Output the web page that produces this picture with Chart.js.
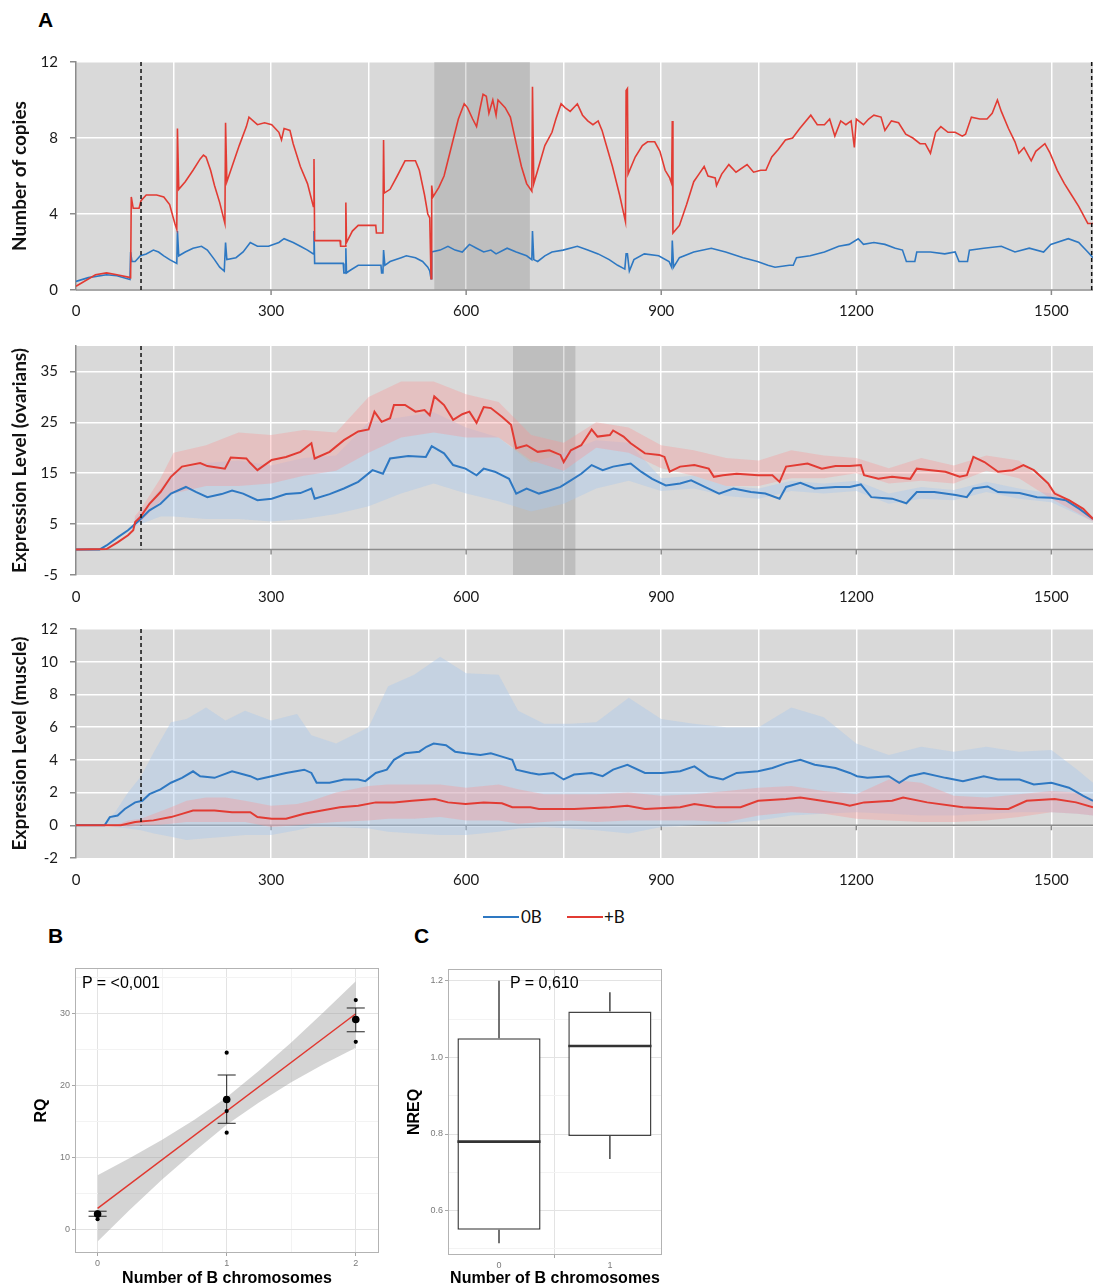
<!DOCTYPE html>
<html>
<head>
<meta charset="utf-8">
<script src="https://cdn.jsdelivr.net/npm/chart.js@4.4.1/dist/chart.umd.min.js"></script>
<style>
  body { margin: 0; background: #fff; width: 1093px; height: 1288px; position: relative; overflow: hidden; }
  canvas { position: absolute; }
  .tag { position: absolute; font-family: "Liberation Sans", Arial, sans-serif; font-weight: bold; font-size: 21px; line-height: 1; color: #000; }
  .ptxt { position: absolute; font-family: "Liberation Sans", Arial, sans-serif; font-size: 16px; line-height: 1; color: #000; }
  .leg-line { position: absolute; height: 2px; }
  .leg-txt { position: absolute; font-family: Lato, sans-serif; font-size: 17px; line-height: 1; color: #111; }
</style>
</head>
<body>
<div class="tag" style="left:38px;top:9px">A</div>
<div class="tag" style="left:48px;top:925px">B</div>
<div class="tag" style="left:414px;top:925px">C</div>

<canvas id="copies" width="1093" height="280" style="left:0;top:50px"></canvas>
<canvas id="ovary" width="1093" height="280" style="left:0;top:335px"></canvas>
<canvas id="muscle" width="1093" height="281" style="left:0;top:617px"></canvas>

<div class="leg-line" style="left:483px;top:916px;width:36px;background:#2e78c2"></div>
<div class="leg-txt" style="left:521px;top:908px">0B</div>
<div class="leg-line" style="left:567px;top:916px;width:36px;background:#e23b33"></div>
<div class="leg-txt" style="left:604px;top:908px">+B</div>

<canvas id="rq" width="395" height="333" style="left:0;top:955px"></canvas>
<canvas id="nreq" width="280" height="333" style="left:400px;top:955px"></canvas>
<div class="ptxt" style="left:82px;top:975px">P = &lt;0,001</div>
<div class="ptxt" style="left:510px;top:975px">P = 0,610</div>

<script>
// ===== Panel A: shared axis =====
const xGridTicks = [0, 150, 300, 450, 600, 750, 900, 1050, 1200, 1350, 1500];
const xLabelTicks = [300, 600, 900, 1200, 1500];

// --- Number of copies ---
const copiesZeroB = [[0,0.45],[19,0.65],[47,0.8],[63,0.75],[83,0.55],[84,2.0],[86,1.5],[91,1.5],[99,1.8],[108,1.9],[119,2.1],[127,2.0],[135,1.8],[144,1.6],[155,1.4],[156,3.1],[158,1.8],[168,2.0],[180,2.2],[193,2.3],[202,2.1],[213,1.6],[221,1.2],[228,1.0],[230,2.5],[232,1.6],[246,1.7],[257,2.0],[268,2.5],[279,2.3],[296,2.3],[312,2.5],[320,2.7],[334,2.5],[345,2.3],[356,2.1],[365,1.9],[366,3.1],[367,1.4],[411,1.4],[412,0.9],[414,0.9],[415,2.2],[416,0.9],[420,1.0],[434,1.3],[469,1.3],[470,0.9],[472,0.9],[473,2.1],[475,1.3],[483,1.5],[500,1.7],[508,1.8],[522,1.7],[533,1.5],[541,1.2],[544,1.0],[546,0.6],[547,2.0],[560,2.1],[572,2.3],[583,2.1],[594,2.0],[605,2.4],[616,2.2],[627,2.0],[638,2.1],[646,1.9],[663,2.2],[677,2.0],[693,1.8],[701,1.6],[702,3.1],[704,1.6],[710,1.5],[721,1.8],[732,2.0],[749,2.1],[771,2.3],[787,2.1],[803,1.9],[820,1.6],[833,1.3],[844,1.1],[846,1.9],[848,1.9],[851,1.0],[858,1.6],[874,1.9],[896,1.8],[912,1.5],[916,1.2],[917,2.6],[919,1.2],[928,1.7],[950,2.0],[977,2.2],[999,2.0],[1026,1.7],[1048,1.5],[1064,1.3],[1075,1.2],[1097,1.3],[1103,1.3],[1108,1.7],[1129,1.8],[1151,2.0],[1173,2.3],[1189,2.4],[1203,2.7],[1211,2.4],[1227,2.5],[1244,2.4],[1260,2.2],[1271,2.1],[1277,1.5],[1290,1.5],[1293,2.0],[1314,2.0],[1336,1.9],[1352,2.0],[1358,1.5],[1371,1.5],[1374,2.1],[1396,2.2],[1423,2.3],[1444,2.0],[1466,2.2],[1488,2.0],[1499,2.4],[1526,2.7],[1542,2.5],[1556,2.0],[1564,1.7]];
const copiesPlusB = [[0,0.2],[30,0.8],[47,0.9],[63,0.8],[84,0.65],[85,4.9],[88,4.3],[97,4.3],[100,4.7],[108,5.0],[124,5.0],[135,4.9],[144,4.5],[152,3.5],[155,3.2],[156,8.5],[158,5.3],[168,5.7],[180,6.3],[191,6.9],[196,7.1],[200,7.0],[207,6.3],[213,5.5],[221,4.6],[229,3.5],[230,8.8],[232,5.7],[240,6.5],[251,7.6],[262,8.6],[266,9.1],[279,8.7],[290,8.8],[301,8.7],[312,8.3],[316,7.9],[320,8.5],[329,8.4],[334,7.7],[345,6.5],[356,5.6],[365,4.4],[366,6.9],[367,2.6],[406,2.6],[407,2.3],[414,2.3],[415,4.6],[416,2.5],[425,3.1],[434,3.4],[461,3.4],[462,3.0],[472,3.0],[473,7.9],[474,5.1],[483,5.3],[494,6.0],[503,6.6],[506,6.8],[522,6.8],[528,6.3],[536,5.0],[541,4.0],[544,3.8],[546,0.6],[547,5.5],[549,4.9],[558,5.4],[566,6.0],[577,7.5],[588,9.0],[597,9.8],[602,9.6],[610,9.0],[616,8.6],[621,9.5],[626,10.3],[631,10.2],[635,9.3],[641,10.0],[646,9.2],[649,10.0],[660,9.6],[668,9.1],[677,7.7],[685,6.5],[693,5.6],[701,5.2],[702,10.7],[704,5.6],[710,6.3],[721,7.6],[732,8.3],[738,9.0],[746,9.8],[752,9.6],[760,9.4],[771,9.8],[779,9.2],[787,8.9],[795,8.7],[803,8.9],[809,8.4],[814,7.8],[825,6.5],[836,5.0],[845,3.6],[846,10.5],[848,10.6],[849,6.1],[860,7.0],[871,7.6],[879,7.8],[890,7.8],[898,7.3],[906,6.3],[913,5.9],[916,5.6],[917,8.9],[918,3.0],[928,3.4],[939,4.5],[950,5.7],[958,6.1],[966,6.5],[972,6.0],[983,5.9],[985,5.5],[993,6.1],[1004,6.6],[1015,6.2],[1032,6.6],[1042,6.2],[1053,6.3],[1061,6.3],[1070,7.0],[1080,7.4],[1091,7.9],[1102,8.0],[1113,8.5],[1130,9.2],[1140,8.7],[1151,8.7],[1159,9.0],[1167,8.1],[1176,8.9],[1184,8.7],[1192,8.9],[1197,7.5],[1200,9.0],[1211,8.7],[1219,9.0],[1227,9.2],[1238,9.1],[1244,8.4],[1254,8.9],[1265,8.8],[1276,8.2],[1287,8.0],[1298,7.7],[1306,7.7],[1314,7.2],[1322,8.3],[1330,8.6],[1341,8.3],[1352,8.3],[1363,8.1],[1368,8.2],[1377,9.1],[1390,9.0],[1401,9.0],[1409,9.3],[1417,10.0],[1423,9.4],[1434,8.5],[1444,7.8],[1450,7.2],[1458,7.5],[1469,6.8],[1476,7.3],[1490,7.7],[1498,7.2],[1509,6.3],[1520,5.6],[1531,5.0],[1542,4.4],[1556,3.5],[1564,3.5]];
const copiesShade = [551, 698];
const copiesDashes = [100, 1562];
const copiesYTicks = [0, 4, 8, 12];

// --- Expression level, ovarians ---
const ovarZeroB = [[0,0],[36,0],[47,0.8],[64,2.4],[80,3.8],[97,5.7],[113,7.7],[130,9.0],[146,11.0],[169,12.3],[185,11.3],[202,10.3],[224,10.9],[240,11.6],[257,11.0],[279,9.7],[301,10.0],[323,10.9],[345,11.1],[362,12.0],[367,10.0],[390,10.9],[412,12.0],[434,13.3],[456,15.6],[472,14.9],[483,17.9],[511,18.4],[538,18.2],[547,20.3],[566,18.9],[580,16.6],[599,15.9],[616,14.6],[627,15.9],[644,15.3],[666,13.9],[677,11.0],[693,12.0],[712,11.0],[728,11.6],[745,12.3],[761,13.6],[777,14.9],[793,16.6],[810,15.6],[826,16.3],[853,16.9],[869,15.3],[886,13.9],[907,12.6],[929,13.0],[946,13.6],[967,12.3],[989,11.0],[1011,12.0],[1038,11.3],[1060,11.0],[1082,10.0],[1092,12.3],[1114,13.1],[1136,12.0],[1168,12.3],[1190,12.3],[1207,12.8],[1223,10.3],[1255,10.0],[1277,9.1],[1293,11.3],[1320,11.3],[1353,10.7],[1370,10.3],[1380,12.0],[1402,12.4],[1418,11.3],[1451,11.1],[1478,10.3],[1500,10.2],[1522,9.7],[1543,8.0],[1564,6.0]];
const ovarPlusB = [[0,0],[47,0.1],[64,1.4],[80,2.8],[88,3.8],[91,5.4],[99,6.4],[113,9.0],[130,11.3],[146,14.3],[163,16.3],[191,17.0],[202,16.4],[229,15.9],[238,18.1],[262,17.9],[268,17.0],[279,15.6],[301,17.6],[323,18.2],[345,19.2],[362,20.9],[367,17.9],[390,19.2],[412,21.5],[434,23.2],[450,23.6],[459,27.1],[470,25.1],[483,25.8],[489,28.4],[506,28.4],[522,27.1],[536,27.4],[544,26.4],[551,30.1],[566,28.4],[580,25.5],[594,26.6],[605,27.1],[616,24.9],[627,28.0],[638,27.8],[655,26.1],[669,24.5],[677,19.9],[693,20.5],[710,19.2],[728,19.5],[745,18.6],[750,17.2],[761,19.5],[777,20.5],[793,23.6],[802,22.2],[821,22.5],[826,23.4],[842,22.2],[853,20.9],[875,18.9],[897,18.6],[905,18.2],[913,15.3],[929,16.3],[951,16.6],[973,15.9],[981,14.3],[995,14.6],[1016,14.9],[1049,14.6],[1071,14.6],[1082,13.3],[1092,16.3],[1125,16.9],[1147,15.9],[1168,16.4],[1190,16.4],[1207,16.6],[1212,14.6],[1234,13.9],[1255,14.3],[1283,13.9],[1293,15.9],[1315,15.6],[1337,15.3],[1359,14.3],[1370,14.6],[1380,18.2],[1397,17.2],[1418,15.3],[1440,15.6],[1457,16.6],[1473,15.6],[1495,13.0],[1505,11.0],[1527,9.7],[1549,8.0],[1564,6.0]];
const ovarBandX      = [90, 100, 130, 150, 200, 250, 300, 350, 400, 450, 500, 550, 600, 650, 700, 750, 800, 850, 900, 950, 1000, 1050, 1100, 1150, 1200, 1250, 1300, 1350, 1400, 1450, 1500, 1564];
const ovarZeroBHigh  = [6, 7.5, 12, 15.5, 17, 17.5, 16.5, 18, 18.5, 25, 26, 27, 24, 22, 17, 19, 21.5, 21, 14, 14.5, 12.5, 12, 13.5, 13, 13.5, 11, 12.3, 11.7, 13.3, 12, 11, 6.5];
const ovarZeroBLow   = [4.5, 5, 6.5, 6.5, 6, 6, 5.5, 6, 7, 8.5, 11, 13, 11, 9.5, 7.5, 9, 12, 13.5, 11.5, 12, 10.5, 10, 11.5, 11, 11.5, 9, 10, 9.7, 11.3, 10, 9.3, 5.5];
const ovarPlusBHigh  = [6.5, 8, 14, 19, 20.5, 23, 22.5, 23.5, 23, 30, 33, 33, 30.5, 29, 22.5, 21, 25, 24, 20.5, 19.5, 18, 17.5, 19.5, 18.5, 18, 16, 18, 16.5, 18.5, 17.5, 12, 6.5];
const ovarPlusBLow   = [5, 5.5, 9.5, 11, 12.5, 12.5, 13, 14.5, 15.5, 19, 22, 23, 22, 22, 17.5, 15.5, 20, 19, 16, 14.5, 12.5, 12.5, 14, 14, 15, 13, 13.5, 13, 15.5, 14, 10, 5.5];
const ovarShade = [672, 768];
const ovarDashes = [100];
const ovarYTicks = [-5, 5, 15, 25, 35];

// --- Expression level, muscle ---
const muscZeroB = [[0,0],[44,0],[52,0.5],[64,0.6],[75,1.0],[91,1.4],[102,1.5],[113,1.9],[130,2.2],[146,2.6],[163,2.9],[180,3.3],[191,3.0],[213,2.9],[240,3.3],[268,3.0],[279,2.8],[301,3.0],[323,3.2],[351,3.4],[362,3.2],[370,2.6],[390,2.6],[412,2.8],[434,2.8],[445,2.7],[461,3.2],[478,3.4],[489,4.0],[506,4.4],[528,4.5],[539,4.8],[550,5.0],[569,4.9],[583,4.5],[599,4.4],[622,4.3],[638,4.4],[655,4.2],[671,4.0],[677,3.4],[699,3.2],[712,3.1],[734,3.2],[750,2.8],[766,3.1],[793,3.2],[810,3.0],[826,3.4],[848,3.7],[875,3.2],[902,3.2],[929,3.3],[951,3.6],[973,3.0],[995,2.8],[1016,3.2],[1049,3.3],[1071,3.5],[1092,3.8],[1114,4.0],[1136,3.7],[1168,3.5],[1190,3.2],[1201,3.0],[1217,2.9],[1250,3.0],[1266,2.6],[1282,3.0],[1304,3.2],[1337,2.9],[1364,2.7],[1396,3.0],[1418,2.8],[1451,2.8],[1473,2.5],[1500,2.6],[1527,2.3],[1549,1.8],[1564,1.5]];
const muscPlusB = [[0,0],[69,0],[91,0.2],[119,0.3],[146,0.5],[163,0.7],[180,0.9],[213,0.9],[240,0.8],[268,0.8],[279,0.5],[301,0.4],[323,0.4],[351,0.7],[378,0.9],[406,1.1],[434,1.2],[461,1.4],[489,1.4],[517,1.5],[552,1.6],[572,1.4],[599,1.3],[627,1.4],[655,1.35],[671,1.1],[699,1.1],[712,1.0],[766,1.0],[821,1.1],[848,1.2],[875,1.0],[929,1.1],[951,1.3],[984,1.1],[1022,1.1],[1049,1.5],[1092,1.6],[1114,1.7],[1147,1.5],[1179,1.3],[1190,1.2],[1212,1.4],[1255,1.5],[1272,1.7],[1309,1.4],[1364,1.1],[1418,1.0],[1434,1.0],[1462,1.5],[1505,1.6],[1538,1.4],[1564,1.1]];
const muscBandX      = [44, 60, 80, 100, 120, 146, 170, 200, 230, 260, 300, 340, 362, 400, 450, 480, 520, 560, 600, 650, 680, 720, 760, 800, 850, 900, 950, 1000, 1050, 1100, 1150, 1200, 1250, 1300, 1350, 1400, 1450, 1500, 1540, 1564];
const muscZeroBHigh  = [0.1, 0.8, 2.0, 3.0, 4.5, 6.3, 6.5, 7.2, 6.4, 7.0, 6.4, 6.8, 5.5, 5.0, 6.0, 8.5, 9.2, 10.3, 9.3, 9.2, 7.0, 6.2, 6.2, 6.3, 7.8, 6.5, 6.2, 6.0, 6.0, 7.2, 6.6, 5.0, 4.3, 4.8, 4.5, 4.8, 4.5, 4.6, 3.4, 2.6];
const muscZeroBLow   = [0, -0.1, -0.2, -0.3, -0.5, -0.7, -0.9, -0.8, -0.7, -0.6, -0.6, -0.3, -0.1, -0.1, -0.2, -0.4, -0.5, -0.6, -0.6, -0.4, -0.2, -0.1, -0.2, -0.3, -0.5, -0.1, 0, 0.1, 0.3, 0.6, 0.7, 0.8, 0.7, 0.6, 0.6, 0.7, 0.8, 0.8, 0.7, 0.6];
const muscPlusBHigh  = [0, 0, 0.3, 0.4, 0.7, 1.1, 1.5, 1.7, 1.7, 1.5, 1.2, 1.3, 1.5, 2.0, 2.4, 2.5, 2.5, 2.5, 2.3, 2.5, 2.2, 1.9, 1.9, 1.9, 2.0, 1.8, 1.9, 2.1, 2.3, 2.4, 2.1, 1.9, 2.8, 2.6, 1.8, 1.7, 1.9, 2.1, 2.0, 1.6];
const muscPlusBLow   = [0, 0, -0.1, 0, 0, 0.1, 0.2, 0.2, 0.2, 0.2, -0.1, 0, 0.1, 0.2, 0.3, 0.4, 0.4, 0.5, 0.3, 0.3, 0.1, 0.2, 0.3, 0.2, 0.3, 0.3, 0.3, 0.2, 0.6, 0.8, 0.7, 0.4, 0.3, 0.2, 0.2, 0.3, 0.5, 0.8, 0.7, 0.6];
const muscDashes = [100];
const muscYTicks = [-2, 0, 2, 4, 6, 8, 10, 12];

// ===== Panel B: RQ vs number of B chromosomes =====
const rqGroups  = [0, 1, 2];
const rqSamples = [[0,2.3],[0,2.0],[0,1.4],[1,24.5],[1,16.4],[1,13.4],[2,31.8],[2,29.3],[2,26.0]];
const rqMean    = [2.1, 18.0, 29.1];
const rqErrHigh = [2.5, 21.4, 30.7];
const rqErrLow  = [1.8, 14.7, 27.4];
const rqFitX    = [0, 2];
const rqFitY    = [2.9, 29.9];
const rqBandX   = [0, 0.25, 0.5, 0.75, 1, 1.25, 1.5, 1.75, 2];
const rqBandHigh = [7.5, 9.9, 12.4, 15.2, 18.3, 22.0, 25.9, 30.1, 34.4];
const rqBandLow  = [-1.7, 2.7, 6.9, 10.8, 14.5, 17.6, 20.4, 22.9, 25.2];

// ===== Panel C: NREQ boxplot =====
const nreqGroups = [0, 1];
const nreqMin = [0.515, 0.735];
const nreqQ1  = [0.55, 0.795];
const nreqMed = [0.78, 1.03];
const nreqQ3  = [1.05, 1.12];
const nreqMax = [1.2, 1.17];

const RED = '#e23b33';
const BLUE = '#2e78c2';

const pts = arr => arr.map(([x, y]) => ({ x, y }));

function lineSet(data, color, width) {
  return { data: pts(data), borderColor: color, borderWidth: width, pointRadius: 0, fill: false, tension: 0 };
}

function bandSets(xs, hi, lo, color) {
  return [
    { data: xs.map((x, i) => ({ x, y: hi[i] })), borderColor: 'transparent', borderWidth: 0, pointRadius: 0, backgroundColor: color, fill: '+1', tension: 0 },
    { data: xs.map((x, i) => ({ x, y: lo[i] })), borderColor: 'transparent', borderWidth: 0, pointRadius: 0, fill: false, tension: 0 }
  ];
}

// grey panel, shaded window, zero axis with ticks, dashed marker lines
const panelA = {
  id: 'panelA',
  beforeDraw(chart) {
    const a = chart.chartArea, c = chart.ctx;
    c.save();
    c.fillStyle = '#d9d9d9';
    c.fillRect(a.left, a.top, a.right - a.left, a.bottom - a.top);
    c.restore();
  },
  beforeDatasetsDraw(chart, args, o) {
    const a = chart.chartArea, c = chart.ctx, x = chart.scales.x, y = chart.scales.y;
    c.save();
    if (o.shade) {
      const x0 = x.getPixelForValue(o.shade[0]), x1 = x.getPixelForValue(o.shade[1]);
      c.fillStyle = 'rgba(0,0,0,0.12)';
      c.fillRect(x0, a.top, x1 - x0, a.bottom - a.top);
    }
    const y0 = y.getPixelForValue(0);
    c.strokeStyle = '#8c8c8c';
    c.lineWidth = 1.5;
    c.beginPath();
    c.moveTo(a.left, y0);
    c.lineTo(a.right, y0);
    xLabelTicks.forEach(v => {
      const px = x.getPixelForValue(v);
      c.moveTo(px, y0);
      c.lineTo(px, y0 + 5);
    });
    c.stroke();
    c.restore();
  },
  afterDatasetsDraw(chart, args, o) {
    const a = chart.chartArea, c = chart.ctx, x = chart.scales.x, y = chart.scales.y;
    const y0 = y.getPixelForValue(0);
    c.save();
    c.strokeStyle = '#111';
    c.lineWidth = 1.5;
    c.setLineDash([4, 3]);
    (o.dashes || []).forEach(v => {
      const px = x.getPixelForValue(v);
      c.beginPath();
      c.moveTo(px, a.top);
      c.lineTo(px, y0);
      c.stroke();
    });
    c.restore();
  }
};

function makeA(id, cfg) {
  const datasets = [
    lineSet(cfg.plusB, RED, cfg.lw),
    lineSet(cfg.zeroB, BLUE, cfg.lw)
  ];
  if (cfg.bands) {
    datasets.push(...bandSets(cfg.bands.x, cfg.bands.plusHi, cfg.bands.plusLo, 'rgba(250,150,150,0.35)'));
    datasets.push(...bandSets(cfg.bands.x, cfg.bands.zeroHi, cfg.bands.zeroLo, 'rgba(170,200,235,0.42)'));
  }
  new Chart(document.getElementById(id), {
    type: 'line',
    data: { datasets },
    options: {
      responsive: false,
      animation: false,
      events: [],
      layout: { padding: { top: cfg.padTop, right: 0, left: 0, bottom: 0 } },
      plugins: {
        legend: { display: false },
        tooltip: { enabled: false },
        panelA: { shade: cfg.shade, dashes: cfg.dashes }
      },
      scales: {
        x: {
          type: 'linear', min: 0, max: 1564,
          afterBuildTicks: s => { s.ticks = xGridTicks.map(v => ({ value: v })); },
          afterFit: s => { s.height = 40; },
          grid: { color: c => (c.tick && c.tick.value === 0) ? 'rgba(0,0,0,0)' : '#ffffff', lineWidth: 1.5, drawTicks: false },
          border: { display: false },
          ticks: {
            autoSkip: false, maxRotation: 0, padding: cfg.xPad, color: '#1a1a1a',
            font: { family: 'Lato', size: 15 },
            callback: v => (v % 300 === 0 ? v : '')
          }
        },
        y: {
          min: cfg.yMin, max: cfg.yMax,
          afterBuildTicks: s => { s.ticks = cfg.yTicks.map(v => ({ value: v })); },
          afterFit: s => { s.width = 76; s.paddingTop = 0; s.paddingBottom = 0; },
          grid: {
            color: c => (c.tick && c.tick.value === cfg.yMin && cfg.yMin < 0) ? 'rgba(0,0,0,0)' : '#ffffff',
            lineWidth: 1.5, tickColor: '#8c8c8c', tickLength: 6
          },
          border: { color: '#8c8c8c', width: 1.5 },
          ticks: { padding: 12, color: '#1a1a1a', font: { family: 'Lato', size: 15 } },
          title: {
            display: true, text: cfg.title, color: '#111',
            font: { family: 'Lato', size: 19, weight: 'bold' },
            padding: { top: 8, bottom: 0 }
          }
        }
      }
    },
    plugins: [panelA]
  });
}

makeA('copies', {
  plusB: copiesPlusB, zeroB: copiesZeroB, lw: 1.6,
  shade: copiesShade, dashes: copiesDashes,
  yMin: 0, yMax: 12, yTicks: copiesYTicks, padTop: 12, xPad: 12,
  title: 'Number of copies'
});

makeA('ovary', {
  plusB: ovarPlusB, zeroB: ovarZeroB, lw: 2,
  bands: { x: ovarBandX, plusHi: ovarPlusBHigh, plusLo: ovarPlusBLow, zeroHi: ovarZeroBHigh, zeroLo: ovarZeroBLow },
  shade: ovarShade, dashes: ovarDashes,
  yMin: -5, yMax: 40, yTicks: ovarYTicks, padTop: 11, xPad: 13,
  title: 'Expression Level (ovarians)'
});

makeA('muscle', {
  plusB: muscPlusB, zeroB: muscZeroB, lw: 2,
  bands: { x: muscBandX, plusHi: muscPlusBHigh, plusLo: muscPlusBLow, zeroHi: muscZeroBHigh, zeroLo: muscZeroBLow },
  dashes: muscDashes,
  yMin: -2, yMax: 12, yTicks: muscYTicks, padTop: 12, xPad: 13,
  title: 'Expression Level (muscle)'
});

// ===== ggplot-like panels =====
const boxFrame = {
  id: 'boxFrame',
  afterDraw(chart) {
    const a = chart.chartArea, c = chart.ctx;
    c.save();
    c.strokeStyle = '#b3b3b3';
    c.lineWidth = 1;
    c.strokeRect(a.left + 0.5, a.top + 0.5, a.right - a.left - 1, a.bottom - a.top - 1);
    c.restore();
  }
};

const tickFont = { family: '"Liberation Sans", Arial', size: 9 };
const titleFont = { family: '"Liberation Sans", Arial', size: 16, weight: 'bold' };

function ggScale(min, max, ticks, isMajor, fmt, fitSize, isX, titleText, titlePad) {
  return {
    type: 'linear', min, max,
    afterBuildTicks: s => { s.ticks = ticks.map(v => ({ value: v })); },
    afterFit: s => { if (isX) s.height = fitSize; else s.width = fitSize; },
    grid: {
      color: c => (c.tick && isMajor(c.tick.value)) ? '#e3e3e3' : '#f3f3f3',
      tickColor: c => (c.tick && isMajor(c.tick.value)) ? '#a6a6a6' : 'rgba(0,0,0,0)',
      tickLength: 3, lineWidth: 1
    },
    border: { display: false },
    ticks: {
      autoSkip: false, maxRotation: 0, padding: 2, color: '#7a7a7a', font: tickFont,
      callback: v => (isMajor(v) ? fmt(v) : '')
    },
    title: { display: true, text: titleText, color: '#000', font: titleFont, padding: titlePad }
  };
}

// Panel B datasets
const rqErrBars = [];
rqGroups.forEach((g, i) => {
  rqErrBars.push({ x: g, y: rqErrLow[i] }, { x: g, y: rqErrHigh[i] }, { x: g, y: null });
  rqErrBars.push({ x: g - 0.07, y: rqErrHigh[i] }, { x: g + 0.07, y: rqErrHigh[i] }, { x: g, y: null });
  rqErrBars.push({ x: g - 0.07, y: rqErrLow[i] }, { x: g + 0.07, y: rqErrLow[i] }, { x: g, y: null });
});

new Chart(document.getElementById('rq'), {
  type: 'line',
  data: {
    datasets: [
      { data: rqGroups.map((g, i) => ({ x: g, y: rqMean[i] })), showLine: false, pointRadius: 3.8, pointBackgroundColor: '#000', pointBorderWidth: 0 },
      { data: pts(rqSamples), showLine: false, pointRadius: 2.1, pointBackgroundColor: '#000', pointBorderWidth: 0 },
      { data: rqErrBars, borderColor: '#222', borderWidth: 1, pointRadius: 0, spanGaps: false, fill: false },
      { data: rqFitX.map((x, i) => ({ x, y: rqFitY[i] })), borderColor: '#e0372f', borderWidth: 1.5, pointRadius: 0, fill: false },
      ...bandSets(rqBandX, rqBandHigh, rqBandLow, 'rgba(153,153,153,0.42)')
    ]
  },
  options: {
    responsive: false, animation: false, events: [],
    layout: { padding: { top: 13, right: 16, left: 0, bottom: 0 } },
    plugins: { legend: { display: false }, tooltip: { enabled: false } },
    scales: {
      x: ggScale(-0.175, 2.18, [0, 0.5, 1, 1.5, 2], v => Number.isInteger(v), v => String(v), 35, true, 'Number of B chromosomes', { top: 0, bottom: 0 }),
      y: ggScale(-3.3, 36.25, [0, 5, 10, 15, 20, 25, 30, 35], v => v % 10 === 0, v => String(v), 75, false, 'RQ', { top: 32, bottom: 0 })
    }
  },
  plugins: [boxFrame]
});

// Panel C datasets
const nreqWhiskers = [];
const nreqMedians = [];
nreqGroups.forEach((g, i) => {
  nreqWhiskers.push({ x: g, y: nreqQ3[i] }, { x: g, y: nreqMax[i] }, { x: g, y: null });
  nreqWhiskers.push({ x: g, y: nreqQ1[i] }, { x: g, y: nreqMin[i] }, { x: g, y: null });
  nreqMedians.push({ x: g - 0.375, y: nreqMed[i] }, { x: g + 0.375, y: nreqMed[i] }, { x: g, y: null });
});

new Chart(document.getElementById('nreq'), {
  type: 'bar',
  data: {
    datasets: [
      { type: 'line', data: nreqMedians, borderColor: '#333', borderWidth: 2.6, pointRadius: 0, spanGaps: false, order: 0 },
      { type: 'bar', data: nreqGroups.map((g, i) => ({ x: g, y: [nreqQ1[i], nreqQ3[i]] })),
        backgroundColor: '#ffffff', borderColor: '#444', borderWidth: 1.5, borderSkipped: false,
        barPercentage: 0.75, categoryPercentage: 1, order: 1 },
      { type: 'line', data: nreqWhiskers, borderColor: '#444', borderWidth: 1.5, pointRadius: 0, spanGaps: false, order: 2 }
    ]
  },
  options: {
    responsive: false, animation: false, events: [],
    layout: { padding: { top: 14, right: 18, left: 0, bottom: 0 } },
    plugins: { legend: { display: false }, tooltip: { enabled: false } },
    scales: {
      x: Object.assign(ggScale(-0.46, 1.47, [0, 1], () => true, v => String(v), 33, true, 'Number of B chromosomes', { top: 0, bottom: 0 }), { offset: false }),
      y: ggScale(0.484, 1.231, [0.5, 0.6, 0.7, 0.8, 0.9, 1.0, 1.1, 1.2], v => Math.round(v * 10) % 2 === 0, v => v.toFixed(1), 48, false, 'NREQ', { top: 5, bottom: 0 })
    }
  },
  plugins: [boxFrame]
});
</script>
</body>
</html>
